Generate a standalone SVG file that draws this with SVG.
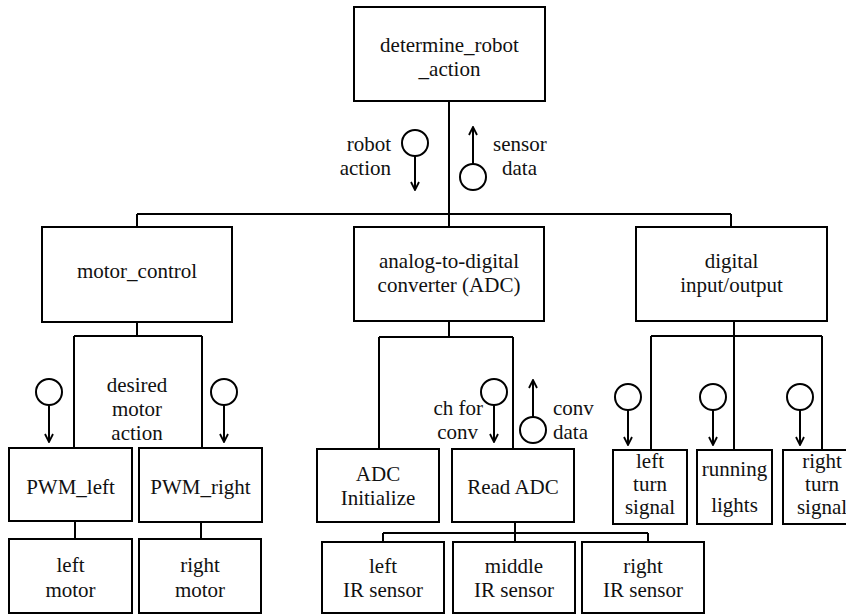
<svg xmlns="http://www.w3.org/2000/svg" width="846" height="615" viewBox="0 0 846 615" font-family="Liberation Serif, DejaVu Serif, serif" font-size="21">
<style>
.box{fill:#fff;stroke:#000;stroke-width:2}
.ln{fill:none;stroke:#000;stroke-width:2}
.cp{fill:none;stroke:#000;stroke-width:2}
text{font-family:"Liberation Serif","DejaVu Serif",serif;font-size:21px;fill:#111}
.c{text-anchor:middle}
.r{text-anchor:end}
</style>
<defs>
<marker id="ah" viewBox="0 0 10 10" refX="9" refY="5" markerWidth="10" markerHeight="10" markerUnits="userSpaceOnUse" orient="auto">
<path d="M1,1 L9,5 L1,9" fill="none" stroke="#000" stroke-width="1.8"/>
</marker>
</defs>
<rect width="846" height="615" fill="#fff"/>

<g id="connectors">
<path class="ln" d="M449,101 V214 M137,214 H731 M137,214 V227 M449,214 V227 M731,214 V227"/>
<path class="ln" d="M137,322 V336 M74,336 H202 M74,336 V448 M202,336 V448"/>
<path class="ln" d="M75,521 V539 M201,522 V539"/>
<path class="ln" d="M449,321 V337 M379,337 H513 M379,337 V449 M513,337 V449"/>
<path class="ln" d="M515,522 V533 M383,533 H648 M383,533 V542 M515,533 V542 M648,533 V542"/>
<path class="ln" d="M734,321 V336 M651,336 H822 M651,336 V450 M734,336 V450 M822,336 V450"/>
</g>

<g id="couples">
<circle class="cp" cx="415" cy="143" r="13"/>
<line class="cp" x1="415" y1="156" x2="415" y2="190" marker-end="url(#ah)"/>
<circle class="cp" cx="473" cy="177" r="13"/>
<line class="cp" x1="473" y1="164" x2="473" y2="127" marker-end="url(#ah)"/>
<circle class="cp" cx="49" cy="392" r="13"/>
<line class="cp" x1="49" y1="405" x2="49" y2="442" marker-end="url(#ah)"/>
<circle class="cp" cx="224" cy="392" r="13"/>
<line class="cp" x1="224" y1="405" x2="224" y2="442" marker-end="url(#ah)"/>
<circle class="cp" cx="494" cy="392" r="13"/>
<line class="cp" x1="494" y1="405" x2="494" y2="442" marker-end="url(#ah)"/>
<circle class="cp" cx="533" cy="430" r="13"/>
<line class="cp" x1="533" y1="417" x2="533" y2="380" marker-end="url(#ah)"/>
<circle class="cp" cx="628" cy="397" r="13"/>
<line class="cp" x1="628" y1="410" x2="628" y2="445" marker-end="url(#ah)"/>
<circle class="cp" cx="713" cy="397" r="13"/>
<line class="cp" x1="713" y1="410" x2="713" y2="445" marker-end="url(#ah)"/>
<circle class="cp" cx="800" cy="397" r="13"/>
<line class="cp" x1="800" y1="410" x2="800" y2="445" marker-end="url(#ah)"/>
</g>

<g id="labels">
<text class="r" x="391" y="151">robot</text>
<text class="r" x="391" y="175">action</text>
<text x="493" y="151">sensor</text>
<text x="502" y="175">data</text>
<text class="c" x="137" y="392">desired</text>
<text class="c" x="137" y="416">motor</text>
<text class="c" x="137" y="440">action</text>
<text class="r" x="483" y="415">ch for</text>
<text class="r" x="478" y="439">conv</text>
<text x="553" y="415">conv</text>
<text x="553" y="439">data</text>
</g>

<g id="determine_robot_action">
<rect class="box" x="354" y="7" width="191" height="94"/>
<text class="c" x="449.5" y="52">determine_robot</text>
<text class="c" x="449.5" y="76">_action</text>
</g>
<g id="motor_control">
<rect class="box" x="42" y="227" width="190" height="95"/>
<text class="c" x="137" y="278">motor_control</text>
</g>
<g id="adc">
<rect class="box" x="354" y="227" width="190" height="94"/>
<text class="c" x="449" y="268">analog-to-digital</text>
<text class="c" x="449" y="292">converter (ADC)</text>
</g>
<g id="digital_io">
<rect class="box" x="636" y="227" width="191" height="94"/>
<text class="c" x="731.5" y="268">digital</text>
<text class="c" x="731.5" y="292">input/output</text>
</g>
<g id="pwm_left">
<rect class="box" x="9" y="448" width="123" height="73"/>
<text class="c" x="70.5" y="494">PWM_left</text>
</g>
<g id="pwm_right">
<rect class="box" x="139" y="448" width="123" height="74"/>
<text class="c" x="200.5" y="494">PWM_right</text>
</g>
<g id="left_motor">
<rect class="box" x="9" y="539" width="123" height="74"/>
<text class="c" x="70.5" y="572">left</text>
<text class="c" x="70.5" y="597">motor</text>
</g>
<g id="right_motor">
<rect class="box" x="139" y="539" width="122" height="74"/>
<text class="c" x="200" y="572">right</text>
<text class="c" x="200" y="597">motor</text>
</g>
<g id="adc_initialize">
<rect class="box" x="317" y="449" width="122" height="73"/>
<text class="c" x="378" y="481">ADC</text>
<text class="c" x="378" y="505">Initialize</text>
</g>
<g id="read_adc">
<rect class="box" x="452" y="449" width="122" height="73"/>
<text class="c" x="513" y="494">Read ADC</text>
</g>
<g id="left_ir">
<rect class="box" x="322" y="542" width="122" height="71"/>
<text class="c" x="383" y="573">left</text>
<text class="c" x="383" y="597">IR sensor</text>
</g>
<g id="middle_ir">
<rect class="box" x="453" y="542" width="122" height="71"/>
<text class="c" x="514" y="573">middle</text>
<text class="c" x="514" y="597">IR sensor</text>
</g>
<g id="right_ir">
<rect class="box" x="582" y="542" width="122" height="71"/>
<text class="c" x="643" y="573">right</text>
<text class="c" x="643" y="597">IR sensor</text>
</g>
<g id="left_turn_signal">
<rect class="box" x="613" y="450" width="74" height="74"/>
<text class="c" x="650" y="468">left</text>
<text class="c" x="650" y="491">turn</text>
<text class="c" x="650" y="514">signal</text>
</g>
<g id="running_lights">
<rect class="box" x="697" y="450" width="75" height="74"/>
<text class="c" x="734.5" y="476">running</text>
<text class="c" x="734.5" y="512">lights</text>
</g>
<g id="right_turn_signal">
<rect class="box" x="783" y="450" width="78" height="74"/>
<text class="c" x="822" y="468">right</text>
<text class="c" x="822" y="491">turn</text>
<text class="c" x="822" y="514">signal</text>
</g>
</svg>
